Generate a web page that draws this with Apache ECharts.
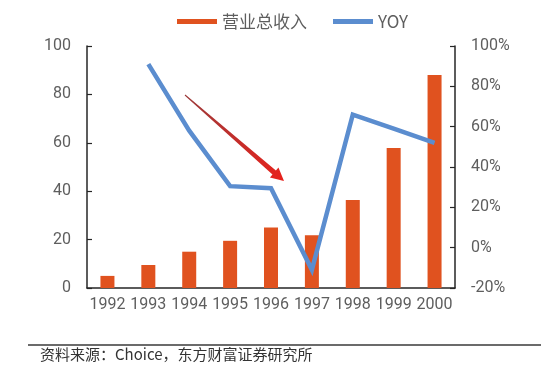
<!DOCTYPE html>
<html>
<head>
<meta charset="utf-8">
<script src="https://cdn.jsdelivr.net/npm/echarts@6/dist/echarts.min.js"></script>
<style>
html,body{margin:0;padding:0;background:#fff;}
#c{width:553px;height:367px;}
</style>
</head>
<body>
<div id="c"></div>
<script>
var years = ['1992','1993','1994','1995','1996','1997','1998','1999','2000'];
var revenue = [5, 9.5, 15, 19.5, 25, 21.8, 36.4, 57.8, 88];
var yoy = [null, 91, 58, 30.5, 29.5, -11, 66, 59, 52];
var leftTicks = [0, 100, 20];
var rightTicks = [-20, 100, 20];
var sourceText = '资料来源：Choice，东方财富证券研究所';

var chart = echarts.init(document.getElementById('c'), null, {renderer: 'canvas'});
var axisColor = '#262626';
var labelColor = '#5e5e5e';
var numFont = 'Roboto, "Noto Sans", sans-serif';

function arrowPoints(x0, y0, x1, y1) {
  var dx = x1 - x0, dy = y1 - y0, L = Math.sqrt(dx*dx + dy*dy);
  var ux = dx / L, uy = dy / L, nx = -uy, ny = ux;
  var hl = 13, hw = 6.5, sw = 2.6, tw = 0.5;
  var bx = x1 - hl*ux, by = y1 - hl*uy;
  return [
    [x0 + tw*nx, y0 + tw*ny],
    [bx + sw*nx, by + sw*ny],
    [bx + hw*nx, by + hw*ny],
    [x1, y1],
    [bx - hw*nx, by - hw*ny],
    [bx - sw*nx, by - sw*ny],
    [x0 - tw*nx, y0 - tw*ny]
  ];
}

var option = {
  animation: false,
  backgroundColor: '#fff',
  legend: {
    top: 8,
    left: 172,
    itemGap: 26,
    itemWidth: 40,
    itemHeight: 5,
    textStyle: {color: labelColor, fontSize: 17, fontFamily: '"Noto Sans CJK SC", sans-serif'},
    data: [
      {name: '营业总收入', icon: 'rect'},
      {name: 'YOY', icon: 'rect'}
    ]
  },
  grid: {left: 87, right: 98, top: 46, bottom: 79, containLabel: false},
  xAxis: {
    type: 'category',
    data: years,
    boundaryGap: true,
    axisLine: {lineStyle: {color: axisColor, width: 1.5}},
    axisTick: {inside: true, length: 5, lineStyle: {color: axisColor, width: 1.2}},
    axisLabel: {color: labelColor, fontSize: 16, fontFamily: numFont, margin: 9, interval: 0, hideOverlap: false}
  },
  yAxis: [
    {
      type: 'value', min: leftTicks[0], max: leftTicks[1], interval: leftTicks[2],
      axisLine: {show: true, lineStyle: {color: axisColor, width: 1.5}},
      axisTick: {show: true, inside: true, length: 5, lineStyle: {color: axisColor, width: 1.2}},
      splitLine: {show: false},
      axisLabel: {color: labelColor, fontSize: 16, fontFamily: numFont, margin: 16}
    },
    {
      type: 'value', min: rightTicks[0], max: rightTicks[1], interval: rightTicks[2],
      position: 'right',
      axisLine: {show: true, lineStyle: {color: axisColor, width: 1.5}},
      axisTick: {show: true, inside: true, length: 5, lineStyle: {color: axisColor, width: 1.2}},
      splitLine: {show: false},
      axisLabel: {color: labelColor, fontSize: 16, fontFamily: numFont, margin: 16, formatter: '{value}%'}
    }
  ],
  series: [
    {
      name: '营业总收入', type: 'bar', data: revenue, barWidth: 14,
      itemStyle: {color: '#E0521F'}, yAxisIndex: 0
    },
    {
      name: 'YOY', type: 'line', data: yoy, yAxisIndex: 1,
      showSymbol: false, symbol: 'none', connectNulls: false,
      lineStyle: {color: '#5B8DCF', width: 4.5, join: 'miter'},
      itemStyle: {color: '#5B8DCF'}
    }
  ],
  graphic: [
    {
      type: 'polygon',
      shape: {points: arrowPoints(185, 95, 284, 181)},
      style: {
        fill: new echarts.graphic.LinearGradient(0, 0, 1, 1, [
          {offset: 0, color: '#9B3A3A'},
          {offset: 1, color: '#E8221C'}
        ])
      },
      z: 100
    },
    {
      type: 'line',
      shape: {x1: 28, y1: 345, x2: 541, y2: 345},
      style: {stroke: '#3a3a3a', lineWidth: 1.6}
    },
    {
      type: 'text',
      left: 40, top: 347,
      style: {text: sourceText, fill: '#333', font: '15px "Noto Sans CJK SC", sans-serif'}
    }
  ]
};
chart.setOption(option);
</script>
</body>
</html>
